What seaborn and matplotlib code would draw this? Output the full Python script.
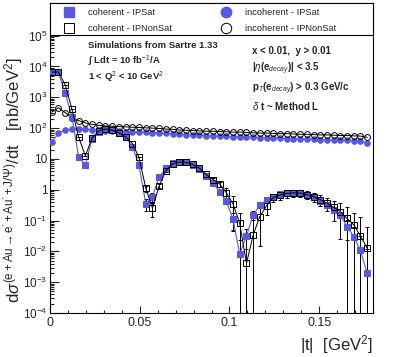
import matplotlib
matplotlib.use("Agg")
import matplotlib.pyplot as plt
import seaborn as sns
from matplotlib.lines import Line2D
from matplotlib.patches import Rectangle
from matplotlib.ticker import FixedLocator, FixedFormatter, LogLocator, MultipleLocator, NullFormatter

# |t| bin centres [GeV^2]
t = [0.0010, 0.0047, 0.0085, 0.0122, 0.0160, 0.0197, 0.0234, 0.0272,
     0.0309, 0.0347, 0.0384, 0.0421, 0.0459, 0.0496, 0.0534, 0.0571,
     0.0608, 0.0646, 0.0683, 0.0721, 0.0758, 0.0795, 0.0833, 0.0870,
     0.0908, 0.0945, 0.0982, 0.1020, 0.1057, 0.1095, 0.1132, 0.1169,
     0.1207, 0.1244, 0.1282, 0.1319, 0.1356, 0.1394, 0.1431, 0.1469,
     0.1506, 0.1543, 0.1581, 0.1618, 0.1656, 0.1693, 0.1730, 0.1768]

# dsigma/dt [nb/GeV^2]
coh_ipsat = [6760, 6460, 1350, 234, 11.5, 6.5, 43.7, 77.6,
             93.3, 85.1, 70.8, 50.1, 25.1, 6.3, 0.347, 0.603,
             2.57, 4.9, 7.24, 7.94, 7.76, 6.31, 4.57, 2.82,
             1.66, 0.871, 0.437, 0.110, 0.0083, 0.0316, 0.151, 0.316,
             0.468, 0.603, 0.708, 0.776, 0.794, 0.759, 0.661, 0.562,
             0.447, 0.316, 0.219, 0.151, 0.063, 0.030, 0.0107, 0.00195]
coh_ipnonsat = [6610, 6610, 2510, 417, 50.1, 12.6, 46.8, 83.2,
                93.3, 85.1, 70.8, 52.5, 31.6, 11.2, 1.12, 0.251,
                1.32, 4.17, 6.92, 7.94, 7.76, 6.61, 5.01, 3.16,
                2.14, 1.55, 0.813, 0.347, 0.0813, 0.00407, 0.0339, 0.135,
                0.302, 0.562, 0.676, 0.759, 0.794, 0.776, 0.692, 0.603,
                0.479, 0.363, 0.269, 0.195, 0.117, 0.0724, 0.0316, 0.0126]
incoh_ipsat = [35.5, 67.6, 89.1, 93.3, 93.3, 91.2, 87.1, 85.1,
               83.2, 81.3, 79.4, 77.6, 75.9, 74.1, 72.4, 70.8,
               69.2, 67.6, 64.6, 63.1, 61.7, 60.3, 58.9, 57.5,
               56.2, 55.0, 53.7, 52.5, 52.5, 51.3, 50.1, 49.0,
               49.0, 47.9, 46.8, 45.7, 45.7, 44.7, 43.7, 43.7,
               42.7, 41.7, 41.7, 40.7, 39.8, 38.9, 38.0, 33.1]
incoh_ipnonsat = [331, 457, 316, 214, 174, 148, 132, 123,
                  117, 115, 112, 110, 107, 105, 102, 100,
                  97.7, 93.3, 91.2, 87.1, 85.1, 83.2, 81.3, 79.4,
                  79.4, 77.6, 75.9, 74.1, 74.1, 72.4, 70.8, 69.2,
                  69.2, 67.6, 66.1, 66.1, 64.6, 63.1, 63.1, 61.7,
                  60.3, 60.3, 58.9, 57.5, 57.5, 56.2, 55.0, 50.1]

# statistical errors
err_coh_ipsat = [0, 0, 0, 0, 0, 0, 0, 0,
                 0, 0, 0, 0, 0, 0, 0.15, 0.2,
                 0, 0, 0, 0, 0, 0, 0, 0,
                 0, 0, 0, 0.06, 0.015, 0.02, 0.05, 0,
                 0, 0, 0, 0, 0, 0, 0, 0,
                 0, 0, 0, 0, 0.04, 0.03, 0.02, 0.01]
err_coh_ipnonsat = [0, 0, 0, 0, 0, 0, 0, 0,
                    0, 0, 0, 0, 0, 0, 0.25, 0.12,
                    0.2, 0.3, 0.3, 0.3, 0.3, 0.3, 0.3, 0.3,
                    0.3, 0.3, 0.3, 0.3, 0.1, 0.025, 0.11, 0.12,
                    0.15, 0.17, 0.2, 0.2, 0.2, 0.2, 0.2, 0.2,
                    0.18, 0.16, 0.17, 0.17, 0.16, 0.1, 0.1, 0.05]

ytick_vals = [1e-4, 1e-3, 1e-2, 1e-1, 1, 10, 1e2, 1e3, 1e4, 1e5]
ytick_labels = ["10$^{-4}$", "10$^{-3}$", "10$^{-2}$", "10$^{-1}$", "1", "10",
                "10$^{2}$", "10$^{3}$", "10$^{4}$", "10$^{5}$"]
xtick_vals = [0, 0.05, 0.1, 0.15]
xtick_labels = ["0", "0.05", "0.1", "0.15"]

blue = "#5858e0"

sns.set_style("ticks")
plt.rcParams["font.family"] = ["Liberation Sans", "DejaVu Sans"]
plt.rcParams["mathtext.fontset"] = "custom"
plt.rcParams["mathtext.rm"] = "Liberation Sans"
plt.rcParams["mathtext.it"] = "Liberation Sans:italic"
plt.rcParams["mathtext.bf"] = "Liberation Sans:bold"

fig = plt.figure(figsize=(4.15, 3.57), dpi=100)
ax = fig.add_axes([0.1205, 0.1232, 0.7783, 0.8684])
ax.set_yscale("log")

# error bars first, markers on top
ax.errorbar(t, coh_ipnonsat, yerr=err_coh_ipnonsat, fmt="none", ecolor="black",
            elinewidth=0.7, capsize=1.2, capthick=0.7, zorder=2)
ax.errorbar(t, coh_ipsat, yerr=err_coh_ipsat, fmt="none", ecolor="black",
            elinewidth=0.7, capsize=1.2, capthick=0.7, zorder=2)

sns.lineplot(x=t, y=incoh_ipsat, ax=ax, color=blue, marker="o", markersize=4.0,
             markeredgecolor=blue, linewidth=0.8, estimator=None, sort=False, zorder=3)
sns.lineplot(x=t, y=incoh_ipnonsat, ax=ax, color="black", marker="o", markersize=4.2,
             markerfacecolor="none", markeredgecolor="black", markeredgewidth=0.7,
             linewidth=0.7, estimator=None, sort=False, zorder=3)
sns.lineplot(x=t, y=coh_ipsat, ax=ax, color=blue, marker="s", markersize=3.8,
             markeredgecolor=blue, linewidth=0.8, estimator=None, sort=False, zorder=4)
sns.lineplot(x=t, y=coh_ipnonsat, ax=ax, color="black", marker="s", markersize=4.3,
             markerfacecolor="none", markeredgecolor="black", markeredgewidth=0.7,
             linewidth=0.7, estimator=None, sort=False, zorder=5)

ax.set_xlim(0, 0.18)
ax.set_ylim(1e-4, 1.15e6)

ax.yaxis.set_major_locator(FixedLocator(ytick_vals))
ax.yaxis.set_major_formatter(FixedFormatter(ytick_labels))
ax.yaxis.set_minor_locator(LogLocator(base=10, subs=range(2, 10), numticks=30))
ax.yaxis.set_minor_formatter(NullFormatter())
ax.xaxis.set_major_locator(FixedLocator(xtick_vals))
ax.xaxis.set_major_formatter(FixedFormatter(xtick_labels))
ax.xaxis.set_minor_locator(MultipleLocator(0.01))

ax.tick_params(axis="both", which="both", direction="in", width=0.8,
               top=False, right=False)
ax.tick_params(axis="y", which="major", length=6.5, pad=2, labelsize=8.5)
ax.tick_params(axis="y", which="minor", length=3.2)
ax.tick_params(axis="x", which="major", length=5, pad=3, labelsize=9)
ax.tick_params(axis="x", which="minor", length=2.5)
for s in ax.spines.values():
    s.set_linewidth(0.8)
    s.set_color("black")

ax.set_ylabel(r"d$\sigma^{\mathrm{(e+Au\rightarrow e'+Au'+J/\Psi)}}$/dt   [nb/GeV$^{2}$]",
              fontsize=12)
ax.yaxis.set_label_coords(-0.077, 0.43)
ax.set_xlabel(r"|t|  [GeV$^{2}$]", fontsize=12, ha="right")
ax.xaxis.set_label_coords(1.0, -0.065)

# legend panel at the top of the frame
ax.add_patch(Rectangle((0, 0.897), 1, 0.103, transform=ax.transAxes, facecolor="white",
                       edgecolor="black", linewidth=0.8, zorder=6, clip_on=False))
h1 = [Line2D([], [], ls="none", marker="s", ms=7, color=blue),
      Line2D([], [], ls="none", marker="s", ms=7, mfc="none", mec="black", mew=0.7)]
h2 = [Line2D([], [], ls="none", marker="o", ms=7.5, color=blue),
      Line2D([], [], ls="none", marker="o", ms=7.5, mfc="none", mec="black", mew=0.7)]
leg1 = ax.legend(h1, ["coherent - IPSat", "coherent - IPNonSat"], loc="upper left",
                 bbox_to_anchor=(0.025, 1.005), frameon=False, fontsize=6.7, handlelength=1.0,
                 handletextpad=1.5, borderpad=0.2, labelspacing=0.75)
leg1.set_zorder(7)
ax.add_artist(leg1)
leg2 = ax.legend(h2, ["incoherent - IPSat", "incoherent - IPNonSat"], loc="upper left",
                 bbox_to_anchor=(0.51, 1.005), frameon=False, fontsize=6.7, handlelength=1.0,
                 handletextpad=1.5, borderpad=0.2, labelspacing=0.75)
leg2.set_zorder(7)

left_txt = ["Simulations from Sartre 1.33",
            "\u222b Ldt = 10 fb$^{-1}$/A",
            r"1 < Q$^{2}$ < 10 GeV$^{2}$"]
left_y = [0.862, 0.813, 0.76]
for s, yy in zip(left_txt, left_y):
    ax.text(0.118, yy, s, transform=ax.transAxes, fontsize=6.8, fontweight="bold",
            va="center", ha="left")

right_txt = ["x < 0.01,  y > 0.01",
             r"|$\eta$(e$_{decay}$)| < 3.5",
             r"p$_{T}$(e$_{decay}$) > 0.3 GeV/c",
             r"$\delta$ t ~ Method L"]
right_y = [0.845, 0.787, 0.723, 0.668]
for s, yy in zip(right_txt, right_y):
    ax.text(0.625, yy, s, transform=ax.transAxes, fontsize=7, fontweight="bold",
            va="center", ha="left")

fig.savefig("out.png", dpi=100)
